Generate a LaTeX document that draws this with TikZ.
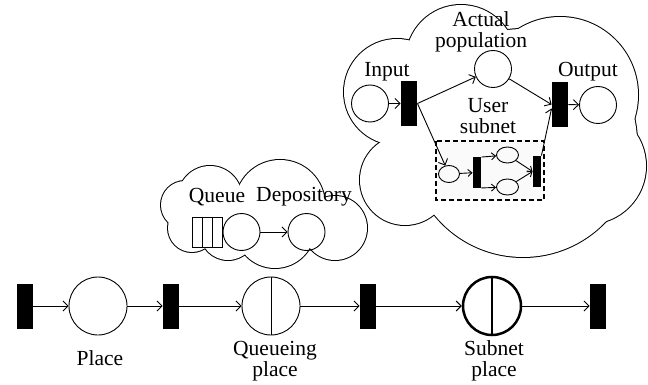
\documentclass[tikz,border=0pt]{standalone}
\usepackage{fontspec}
\setmainfont{Liberation Serif}
\usetikzlibrary{arrows.meta,shapes.geometric}

% puffs of the two clouds: x/y/radius
\newcommand\smallcloud{185/205/24, 210/198/32, 280/205/45, 335/228/32,
  275/228/40, 228/232/28, 192/228/24}
\newcommand\bigcloud{397/92/53, 461/60/55, 560/95/78, 588/166/58,
  523/143/114, 405/180/45}

\tikzset{
  pnplace/.style={circle,draw,minimum size=58pt,inner sep=0pt},
  smallplace/.style={circle,draw,minimum size=37pt,inner sep=0pt},
  tinyplace/.style={ellipse,draw,minimum width=21pt,minimum height=17pt,inner sep=0pt},
  pntrans/.style={fill=black,minimum width=16pt,minimum height=45pt,inner sep=0pt},
  tinytrans/.style={fill=black,minimum width=8pt,minimum height=30pt,inner sep=0pt},
  lbl/.style={font=\fontsize{21.5}{21}\selectfont,align=center,inner sep=0pt},
}

\begin{document}
\begin{tikzpicture}[x=1pt,y=-1pt,line width=0.9pt,>={Straight Barb[length=5pt,width=10pt]}]
  \useasboundingbox (0,0) rectangle (648,385);

  % clouds: thick rings first, then the insides painted white
  \foreach \cx/\cy/\r in \smallcloud \draw[line width=2pt] (\cx,\cy) circle[radius=\r pt];
  \foreach \cx/\cy/\r in \bigcloud \draw[line width=2pt] (\cx,\cy) circle[radius=\r pt];
  \foreach \cx/\cy/\r in \smallcloud \fill[white] (\cx,\cy) circle[radius=\r pt];
  \foreach \cx/\cy/\r in \bigcloud \fill[white] (\cx,\cy) circle[radius=\r pt];
  \fill[white] (265,218) ellipse[x radius=80pt,y radius=30pt];
  \fill[white] (414,50) -- (512,45) -- (620,125) -- (605,205) -- (438,207) -- (392,143) -- cycle;

  % main line
  \node[pntrans] (t1) at (25,306) {};
  \node[pnplace] (p1) at (98,306) {};
  \node[pntrans] (t2) at (171,306) {};
  \node[pnplace] (qp) at (271,306) {};
  \node[pntrans] (t3) at (368,306) {};
  \node[pnplace,line width=2.5pt] (sp) at (492,306) {};
  \node[pntrans] (t4) at (598,306) {};
  \draw (qp.north) -- (qp.south);
  \draw[line width=2.5pt] (sp.north) -- (sp.south);
  \foreach \a/\b in {t1/p1,p1/t2,t2/qp,qp/t3,t3/sp,sp/t4}
    \draw[->] (\a) -- (\b);
  \node[lbl] (plbl) at (100,358) {Place};
  \node[lbl] (qlbl) at (275,361) {Queueing\\place};
  \node[lbl] (slbl) at (494,361) {Subnet\\place};

  % queue and depository
  \node[smallplace] (qc) at (241.5,232) {};
  \node[smallplace] (dep) at (306.5,232) {};
  \node[draw,minimum width=30pt,minimum height=30pt,inner sep=0pt,anchor=east] (qbox) at (qc.west) {};
  \draw ([xshift=-5pt]qbox.north) -- ([xshift=-5pt]qbox.south)
        ([xshift=5pt]qbox.north) -- ([xshift=5pt]qbox.south);
  \draw[->] (qc) -- (dep);
  \node[lbl] (qlab) at (217,197) {Queue};
  \node[lbl] (deplab) at (304,197) {Depository};

  % subnet place contents
  \node[smallplace] (inP) at (370,103.5) {};
  \node[pntrans] (inT) at (409,103.5) {};
  \node[smallplace] (apP) at (493,69) {};
  \node[pntrans] (outT) at (560,104.5) {};
  \node[smallplace] (outP) at (598,105) {};
  \node[lbl] (inlab) at (387,72) {Input};
  \node[lbl] (aplab) at (481,32) {Actual\\population};
  \node[lbl] (outlab) at (588,72) {Output};
  \node[lbl] (uslab) at (488,116) {User\\subnet};
  \draw[line width=1.4pt,dash pattern=on 5pt off 3pt,fill=black!2] (436,141) rectangle (544,200);
  \node[tinyplace] (subP) at (449,174) {};
  \node[tinytrans] (sT1) at (477,172.5) {};
  \node[tinyplace,minimum width=22pt,minimum height=16pt] (upP) at (507.5,155) {};
  \node[tinyplace,minimum width=22pt,minimum height=16pt] (loP) at (507.5,187) {};
  \node[tinytrans,minimum height=31pt] (sT2) at (537,171.5) {};
  \draw[->] (inP) -- (inT);
  \draw[->] (inT.east) -- (apP);
  \draw[->] (apP) -- (outT.west);
  \draw[->] (outT) -- (outP);
  \draw[->] (inT.east) -- (subP);
  \draw[->] (sT2.north east) -- ([yshift=-4pt]outT.west);
  \begin{scope}[>={Straight Barb[length=4pt,width=7pt]}]
    \draw[->] (subP) -- (sT1);
    \draw[->] (sT1.north east) -- (upP);
    \draw[->] (sT1.south east) -- (loP);
    \draw[->] (upP) -- (sT2.west);
    \draw[->] (loP) -- (sT2.west);
  \end{scope}
\end{tikzpicture}
\end{document}
